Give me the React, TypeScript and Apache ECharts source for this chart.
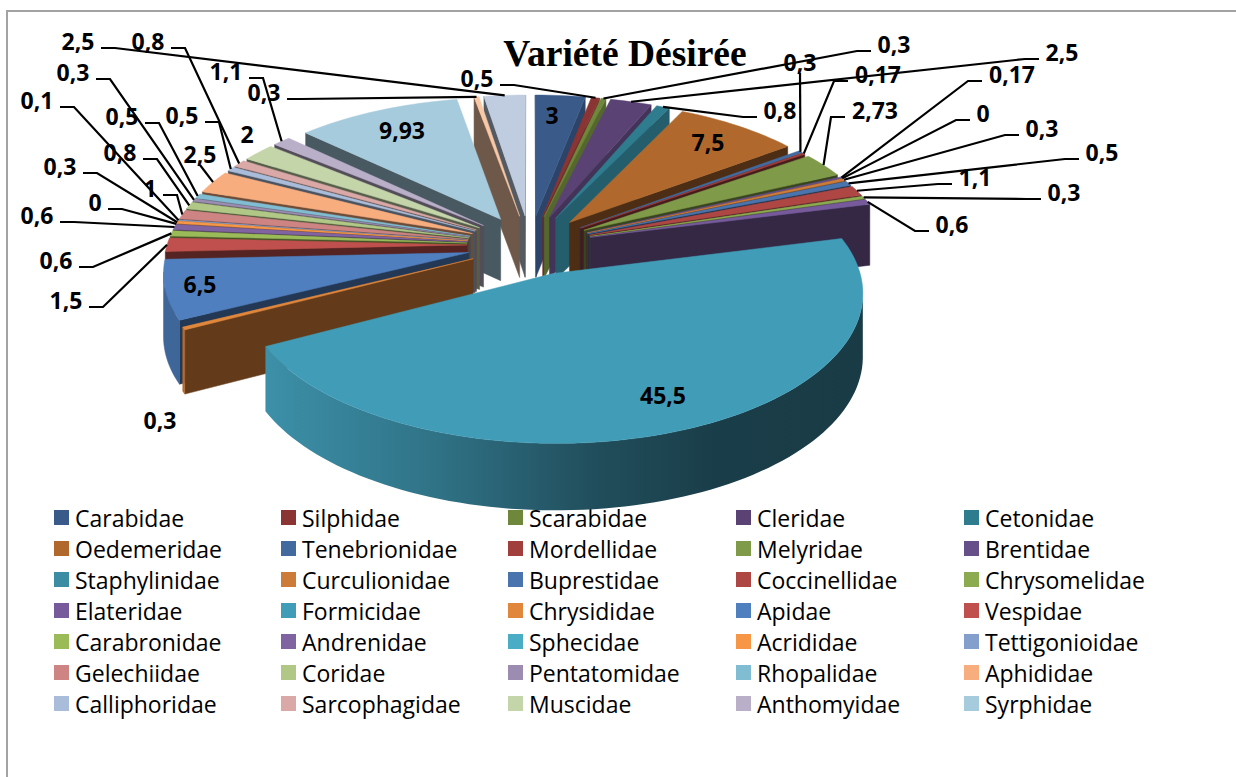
import React, { useEffect, useRef } from "react";
import * as echarts from "echarts";

const titleText = "Variété Désirée";
const families = [
  "Carabidae", "Silphidae", "Scarabidae", "Cleridae", "Cetonidae",
  "Oedemeridae", "Tenebrionidae", "Mordellidae", "Melyridae", "Brentidae",
  "Staphylinidae", "Curculionidae", "Buprestidae", "Coccinellidae", "Chrysomelidae",
  "Elateridae", "Formicidae", "Chrysididae", "Apidae", "Vespidae",
  "Carabronidae", "Andrenidae", "Sphecidae", "Acrididae", "Tettigonioidae",
  "Gelechiidae", "Coridae", "Pentatomidae", "Rhopalidae", "Aphididae",
  "Calliphoridae", "Sarcophagidae", "Muscidae", "Anthomyidae", "Syrphidae",
];
// The two last slices of the pie have no legend entry in the reference.
const unlistedFamilies = ["Sans légende 1", "Sans légende 2"];
const values = [
  3, 0.5, 0.3, 2.5, 0.8,
  7.5, 0.3, 0.17, 2.73, 0.17,
  0, 0.3, 0.5, 1.1, 0.3,
  0.6, 45.5, 0.3, 6.5, 1.5,
  0.6, 0.6, 0, 0.3, 0.1,
  1, 0.8, 0.3, 0.5, 2.5,
  0.5, 0.8, 2, 1.1, 9.93,
  0.3, 2.5,
];
const colors = [
  "#3A5A8A", "#8A3433", "#6F873B", "#5A4374", "#2F7C8F",
  "#B0682D", "#426A9E", "#A03F3C", "#7F9A48", "#67508A",
  "#3C8DA3", "#CC7B38", "#4A74AD", "#AE4744", "#8CAA50",
  "#765A9C", "#419CB7", "#E1873C", "#4F7FBE", "#C0504D",
  "#9BBB59", "#8064A2", "#4BACC6", "#F79646", "#849FCC",
  "#CD8482", "#B0C786", "#9C8CB1", "#80BDD3", "#F8AD7E",
  "#A9BCD9", "#D9A8A7", "#C4D5A9", "#BAAFC9", "#A6CBDC",
  "#F9C8A6", "#C0CCDF",
];
// label layout: [centre x, centre y, side of the leader stub]
const labelSpots: [number, number, string][] = [
  [552, 115, "none"], [477, 78, "right"], [894, 44, "left"], [1062, 52, "left"], [780, 110, "left"],
  [708, 142, "none"], [800, 62, "down"], [878, 74, "left"], [875, 110, "left"], [1012, 74, "left"],
  [983, 113, "left"], [1042, 128, "left"], [1102, 152, "left"], [975, 177, "left"], [1064, 192, "left"],
  [952, 224, "left"], [663, 395, "none"], [160, 420, "none"], [200, 284, "none"], [66, 300, "right"],
  [56, 260, "right"], [37, 215, "right"], [95, 202, "right"], [60, 166, "right"], [37, 100, "right"],
  [150, 188, "right"], [120, 152, "right"], [73, 72, "right"], [122, 116, "right"], [200, 154, "down"],
  [182, 115, "right"], [148, 41, "right"], [247, 134, "none"], [226, 71, "right"], [402, 130, "none"],
  [264, 92, "right"], [78, 41, "right"],
];
const legendColumnsLeft = [54, 281, 508, 736, 964];

// 3D pie projection
const CX = 530, CY = 245, RX = 300, RY = 142, HEIGHT = 62, PERSP = 0.12, EXPLODE = 0.21;
const total = values.reduce((a, b) => a + b, 0);
const toAngle = (v: number) => (v / total) * Math.PI * 2;
const starts: number[] = [];
values.reduce((acc, v, i) => { starts[i] = acc; return acc + v; }, 0);

function project(wx: number, wy: number, lower: boolean): [number, number] {
  const s = 1 / (1 + PERSP * wy);
  return [
    CX + RX * wx * s,
    CY - RY * wy * s + (lower ? HEIGHT * Math.sqrt(s) : 0),
  ];
}
function rimPoint(a: number, mid: number, lower = false, r = 1) {
  const ox = Math.sin(mid) * EXPLODE, oy = Math.cos(mid) * EXPLODE;
  return project(ox + Math.sin(a) * r, oy + Math.cos(a) * r, lower);
}
function area(p: number[][]) {
  let s = 0;
  for (let i = 0; i < p.length; i++) {
    const q = p[(i + 1) % p.length];
    s += p[i][0] * q[1] - q[0] * p[i][1];
  }
  return s / 2;
}
function shade(hex: string, f: number) {
  const n = parseInt(hex.slice(1), 16);
  const c = [(n >> 16) & 255, (n >> 8) & 255, n & 255].map((x) => Math.round(x * f));
  return `rgb(${c[0]},${c[1]},${c[2]})`;
}
const poly = (points: number[][], fill: any) => ({
  type: "polygon",
  shape: { points },
  style: { fill, stroke: typeof fill === "string" ? fill : "none", lineWidth: 0.5 },
  silent: true,
});

function renderSlice(colorHex: string) {
  return (_params: any, api: any) => {
    const value = api.value(0), start = toAngle(api.value(1));
    if (!value) return { type: "group", children: [] };
    const end = start + toAngle(value);
    const mid = (start + end) / 2;
    const steps = Math.max(2, Math.ceil((end - start) / 0.03));
    const top: number[][] = [], bottom: number[][] = [];
    for (let i = 0; i <= steps; i++) {
      const a = start + ((end - start) * i) / steps;
      top.push(rimPoint(a, mid));
      bottom.push(rimPoint(a, mid, true));
    }
    const apexTop = rimPoint(0, mid, false, 0);
    const apexBottom = rimPoint(0, mid, true, 0);
    const children: any[] = [];
    const wallShade = (a: number) => (a < Math.PI / 4 ? 0.76 : 0.44);
    const startWall = [apexTop, top[0], bottom[0], apexBottom];
    const endWall = [apexTop, top[steps], bottom[steps], apexBottom];
    if (area(startWall) < 0) children.push(poly(startWall, shade(colorHex, wallShade(start))));
    if (area(endWall) > 0) children.push(poly(endWall, shade(colorHex, wallShade(end))));
    const facing: number[] = [];
    for (let i = 0; i < steps; i++) {
      if (area([top[i], top[i + 1], bottom[i + 1], bottom[i]]) < 0) facing.push(i);
    }
    if (facing.length) {
      const i0 = facing[0], i1 = facing[facing.length - 1] + 1;
      const run = [...top.slice(i0, i1 + 1), ...bottom.slice(i0, i1 + 1).reverse()];
      const fill = end - start > 1.5
        ? new echarts.graphic.LinearGradient(0, 0, 1, 0, [
            { offset: 0, color: shade(colorHex, 0.92) },
            { offset: 0.28, color: shade(colorHex, 0.74) },
            { offset: 0.55, color: shade(colorHex, 0.5) },
            { offset: 0.75, color: shade(colorHex, 0.4) },
            { offset: 1, color: shade(colorHex, 0.38) },
          ])
        : shade(colorHex, 0.8);
      children.push(poly(run, fill));
    }
    children.push(poly([apexTop, ...top], colorHex));
    return { type: "group", children };
  };
}

function renderLabel(_params: any, api: any) {
  const i = api.value(0);
  const [x, y, side] = labelSpots[i];
  const text = String(values[i]).replace(".", ",");
  const a = toAngle(starts[i] + values[i] / 2);
  const children: any[] = [];
  if (side !== "none") {
    const half = text.length === 1 ? 8 : text.length === 3 ? 18 : 25;
    const rim = rimPoint(a, a);
    let pts: number[][];
    if (side === "down") {
      pts = [[x, y + 11], rim];
    } else {
      const dir = side === "right" ? 1 : -1;
      const x0 = x + dir * (half + 5);
      pts = [[x0, y + 7], [x0 + dir * 14, y + 7], rim];
    }
    children.push({
      type: "polyline",
      shape: { points: pts },
      style: { stroke: "#000", lineWidth: 2.2, fill: "none" },
      silent: true,
    });
  }
  children.push({
    type: "text",
    x,
    y,
    style: {
      text,
      fill: "#000",
      font: "bold 23px 'Open Sans'",
      align: "center",
      verticalAlign: "middle",
    },
    silent: true,
  });
  return { type: "group", children };
}

const allNames = [...families, ...unlistedFamilies];
const depthRank = values
  .map((_, i) => i)
  .sort((p, q) => {
    const depth = (i: number) => Math.cos(toAngle(starts[i] + values[i] / 2));
    return depth(q) - depth(p);
  });

export default function App() {
  const ref = useRef<HTMLDivElement>(null);
  useEffect(() => {
    document.body.style.margin = "0";
    document.body.style.overflow = "hidden";
    const chart = echarts.init(ref.current!, undefined, { renderer: "svg" });
    const sliceSeries = allNames.map((name, i) => ({
      type: "custom",
      name,
      coordinateSystem: "none",
      z: 2 + depthRank.indexOf(i),
      silent: true,
      itemStyle: { color: colors[i] },
      renderItem: renderSlice(colors[i]),
      data: [[values[i], starts[i]]],
    }));
    chart.setOption({
      animation: false,
      backgroundColor: "#fff",
      title: {
        text: titleText,
        left: 620,
        top: 29,
        textAlign: "center",
        textStyle: { fontFamily: "Liberation Serif", fontWeight: "bold", fontSize: 37.5, color: "#000" },
      },
      legend: legendColumnsLeft.map((left, col) => ({
        orient: "vertical",
        left,
        top: 506,
        padding: 0,
        itemWidth: 15,
        itemHeight: 15,
        itemGap: 8,
        selectedMode: false,
        icon: "rect",
        data: families.filter((_, i) => i % 5 === col),
        textStyle: { fontFamily: "Open Sans", fontSize: 23, lineHeight: 22, color: "#000", padding: [0, 0, 0, 1] },
      })),
      graphic: [
        { type: "line", shape: { x1: 7, y1: 11, x2: 7, y2: 777 }, style: { stroke: "#a3a3a3", lineWidth: 2 } },
        { type: "line", shape: { x1: 6, y1: 11, x2: 1236, y2: 11 }, style: { stroke: "#a3a3a3", lineWidth: 2 } },
      ],
      series: [
        ...sliceSeries,
        {
          type: "custom",
          name: "étiquettes",
          coordinateSystem: "none",
          z: 100,
          silent: true,
          renderItem: renderLabel,
          data: values.map((_, i) => [i]),
        },
      ],
    });
    return () => chart.dispose();
  }, []);
  return <div ref={ref} style={{ position: "absolute", left: 0, top: 0, width: 1236, height: 777 }} />;
}
